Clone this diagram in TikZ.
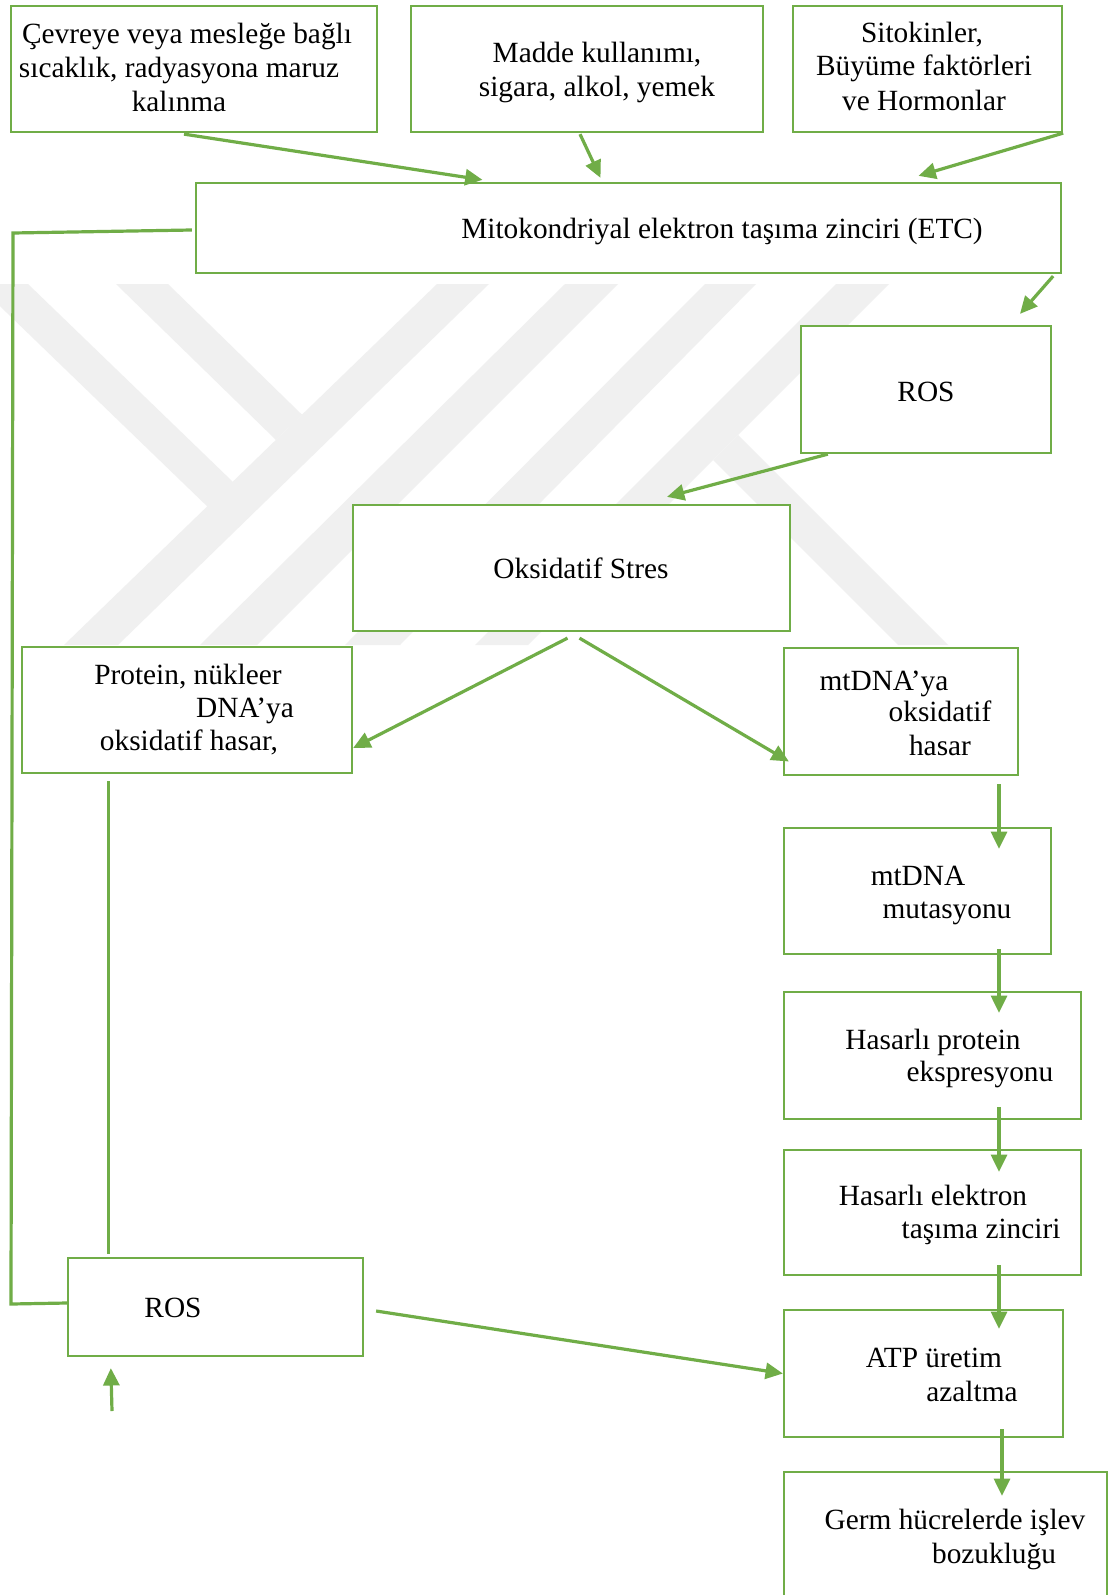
\documentclass[tikz,border=0pt]{standalone}
\usepackage{fontspec}
\setmainfont{Liberation Serif}
\usetikzlibrary{arrows.meta,calc,fit}
\definecolor{gr}{HTML}{70AD47}
\definecolor{wm}{HTML}{F0F0F0}
\tikzset{
 box/.style={draw=gr, line width=1.7pt, fill=white, inner sep=0pt},
 lbl/.style={anchor=base, inner sep=0pt, font=\fontsize{22}{26}\selectfont},
 conn/.style={draw=gr, line width=2.4pt},
 arr/.style={conn, -{Triangle[length=13pt,width=12pt]}},
 wmark/.style={fill=wm},
}
\begin{document}
\begin{tikzpicture}[x=0.75pt,y=-0.75pt]
\useasboundingbox (0,0) rectangle (1110,1595);
\fill[white] (0,0) rectangle (1110,1595);
% watermark
\begin{scope}
\clip (0,0) rectangle (1110,1595);
\fill[wmark] (-23,284)--(28,284)--(232.7,481.7)--(207.7,506.8)--cycle;
\fill[wmark] (116,284)--(168,284)--(302,414.7)--(275.9,439.9)--cycle;
\fill[wmark] (437,284)--(489,284)--(118,645)--(64,645)--cycle;
\fill[wmark] (565,284)--(618,284)--(257,645)--(200,645)--cycle;
\fill[wmark] (705,284)--(756,284)--(400,645)--(345,645)--cycle;
\fill[wmark] (836,284)--(889,284)--(528,645)--(475,645)--cycle;
\fill[wmark] (713,460)--(738,435)--(948,645)--(898,645)--cycle;
\end{scope}
% boxes
\node[box, fit={(11,6)(377,132)}] (A) {};
\node[box, fit={(411,6)(763,132)}] (B) {};
\node[box, fit={(793,6)(1062,132)}] (C) {};
\node[box, fit={(196,183)(1061,273)}] (ETC) {};
\node[box, fit={(801,326)(1051,453)}] (ROSa) {};
\node[box, fit={(353,505)(790,631)}] (OKS) {};
\node[box, fit={(22,647)(352,773)}] (PROT) {};
\node[box, fit={(784,648)(1018,775)}] (MTYA) {};
\node[box, fit={(784,828)(1051,954)}] (MUT) {};
\node[box, fit={(784,992)(1081,1119)}] (HPROT) {};
\node[box, fit={(784,1150)(1081,1275)}] (HELEK) {};
\node[box, fit={(784,1310)(1063,1437)}] (ATP) {};
\node[box, fit={(784,1472)(1107,1610)}] (GERM) {};
\node[box, fit={(68,1258)(363,1356)}] (ROSb) {};
% texts
\node[lbl] (tA1) at (187,44) {Çevreye veya mesleğe bağlı};
\node[lbl] (tA2) at (179,78) {sıcaklık, radyasyona maruz};
\node[lbl] (tA3) at (179,112) {kalınma};
\node[lbl] (tB1) at (597,63) {Madde kullanımı,};
\node[lbl] (tB2) at (597,96) {sigara, alkol, yemek};
\node[lbl] (tC1) at (922,43) {Sitokinler,};
\node[lbl] (tC2) at (924,76) {Büyüme faktörleri};
\node[lbl] (tC3) at (924,110) {ve Hormonlar};
\node[lbl] (tE) at (722,238) {Mitokondriyal elektron taşıma zinciri (ETC)};
\node[lbl] (tRa) at (926,401) {ROS};
\node[lbl] (tO) at (581,578) {Oksidatif Stres};
\node[lbl] (tP1) at (188,684) {Protein, nükleer};
\node[lbl] (tP2) at (245,717) {DNA’ya};
\node[lbl] (tP3) at (189,750) {oksidatif hasar,};
\node[lbl] (tM1) at (884,690) {mtDNA’ya};
\node[lbl] (tM2) at (940,721) {oksidatif};
\node[lbl] (tM3) at (940,755) {hasar};
\node[lbl] (tU1) at (918,885) {mtDNA};
\node[lbl] (tU2) at (947,918) {mutasyonu};
\node[lbl] (tH1) at (933,1049) {Hasarlı protein};
\node[lbl] (tH2) at (980,1081) {ekspresyonu};
\node[lbl] (tK1) at (933,1205) {Hasarlı elektron};
\node[lbl] (tK2) at (981,1238) {taşıma zinciri};
\node[lbl] (tT1) at (934,1367) {ATP üretim};
\node[lbl] (tT2) at (972,1401) {azaltma};
\node[lbl] (tG1) at (955,1529) {Germ hücrelerde işlev};
\node[lbl] (tG2) at (994,1563) {bozukluğu};
\node[lbl] (tRb) at (173,1317) {ROS};
% connectors
\draw[arr] ($(A.south)+(-10,1)$) -- ($(ETC.north)+(-146,-2)$);
\draw[arr] ($(B.south)+(-7,1)$) -- ($(ETC.north)+(-28,-4)$);
\draw[arr] (C.south east) -- ($(ETC.north)+(290,-6)$);
\draw[arr] ($(ETC.south east)+(-9,2)$) -- ($(ROSa.north)+(94,-11)$);
\draw[arr] ($(ROSa.south west)+(28,0)$) -- ($(OKS.north)+(95.5,-7)$);
\draw[arr] ($(OKS.south)+(-4,6)$) -- ($(PROT.east)+(0,38)$);
\draw[arr] ($(OKS.south)+(8,6)$) -- ($(MTYA.west)+(6,50)$);
\draw[arr] ($(MTYA.south)+(98,8)$) -- ($(MUT.north)+(81.5,22)$);
\draw[arr] ($(MUT.south)+(81.5,-6)$) -- ($(HPROT.north)+(66.5,22)$);
\draw[arr] ($(HPROT.south)+(66.5,-13)$) -- ($(HELEK.north)+(66.5,23)$);
\draw[arr] ($(HELEK.south)+(66.5,-11)$) -- ($(ATP.north)+(75.5,20)$);
\draw[arr] ($(ATP.south)+(78.5,-9)$) -- ($(GERM.north)+(56.5,25)$);
\coordinate (bendTop) at (13,233);
\coordinate (bendBot) at (11,1304);
\draw[conn] ($(ETC.west)+(-3,2)$) -- (bendTop) -- (bendBot) -- ($(ROSb.west)+(0,-4)$);
\draw[conn] ($(PROT.south west)+(88,7)$) -- ($(ROSb.north west)+(42,-3)$);
\coordinate (upStart) at (112,1411);
\draw[arr] (upStart) -- ($(ROSb.south west)+(44,11)$);
\draw[arr] ($(ROSb.east)+(12,4)$) -- (ATP.west);
\end{tikzpicture}
\end{document}
